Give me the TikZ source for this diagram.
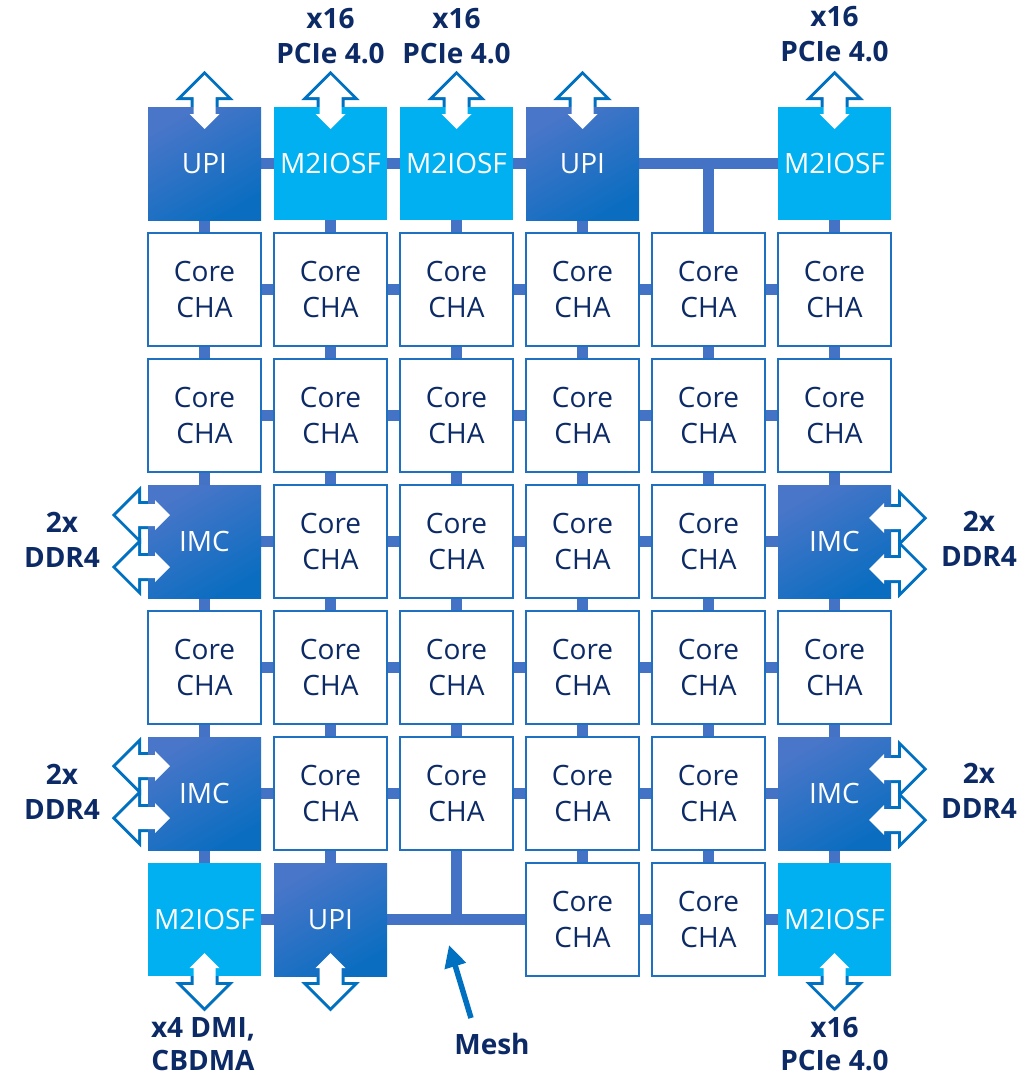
\documentclass[tikz,border=0pt]{standalone}
\usepackage{fontspec}
\setmainfont{Open Sans}
\usetikzlibrary{arrows.meta}

\definecolor{meshblue}{HTML}{4472C4}
\definecolor{edgeblue}{HTML}{1F70C1}
\definecolor{arrowblue}{HTML}{0070C0}
\definecolor{navy}{HTML}{0C2A66}
\definecolor{cyanbox}{HTML}{00B0F0}
\definecolor{agtop}{HTML}{4A76C9}
\definecolor{agmid}{HTML}{3E5EA8}
\definecolor{agbot}{HTML}{0A6DC0}

\pgfdeclarelayer{meshlayer}
\pgfdeclarelayer{arrowlayer}
\pgfdeclarelayer{toplayer}
\pgfsetlayers{meshlayer,arrowlayer,main,toplayer}

\tikzset{
  tile/.style={minimum size=113pt, inner sep=0pt, outer sep=0pt,
    font=\fontsize{28}{36}\selectfont, align=center},
  core/.style={tile, draw=edgeblue, line width=2pt, fill=white, text=navy},
  agent/.style={tile, top color=agtop, middle color=agmid, bottom color=agbot,
    shading angle=30, text=white},
  iosf/.style={tile, fill=cyanbox, text=white},
  link/.style={meshblue, line width=10.5pt},
  lbl/.style={font=\fontsize{28}{35}\selectfont\bfseries, text=navy, align=center,
    inner sep=0pt, anchor=base},
  pointer/.style={arrowblue, line width=5.5pt, -{Triangle[length=22pt,width=21pt]}},
  % double-headed I/O arrow: outlined part outside the tile, plain white inside it
  dblarrow/.pic={
    \begin{pgfonlayer}{arrowlayer}
      \draw[arrowblue, line width=6pt, fill=white, line join=miter]
        (0,4) -- (22,26) -- (11,26) -- (11,43) -- (15,43) -- (0,58)
        -- (-15,43) -- (-11,43) -- (-11,26) -- (-22,26) -- cycle;
    \end{pgfonlayer}
    \begin{pgfonlayer}{toplayer}
      \fill[white]
        (0,4) -- (22,26) -- (11,26) -- (11,43) -- (15,43) -- (0,58)
        -- (-15,43) -- (-11,43) -- (-11,26) -- (-22,26) -- cycle;
    \end{pgfonlayer}
  }
}

\begin{document}
\begin{tikzpicture}[x=1pt, y=-1pt]
\useasboundingbox (0,0) rectangle (1031,1076);

% ---- row 0
\node[agent] (n00) at (204.5,163.5) {UPI};
\node[iosf]  (n01) at (330.5,163.5) {M2IOSF};
\node[iosf]  (n02) at (456.5,163.5) {M2IOSF};
\node[agent] (n03) at (582.5,163.5) {UPI};
\coordinate  (n04) at (708.5,163.5);
\node[iosf]  (n05) at (834.5,163.5) {M2IOSF};

% ---- rows 1, 2 and 4: cores only
\foreach \r/\y in {1/289.5, 2/415.5, 4/667.5}{
  \foreach \c/\x in {0/204.5, 1/330.5, 2/456.5, 3/582.5, 4/708.5, 5/834.5}{
    \node[core] (n\r\c) at (\x,\y) {Core\\CHA};
  }
}

% ---- rows 3 and 5: memory controllers at both ends
\foreach \r/\y in {3/541.5, 5/793.5}{
  \node[agent] (n\r0) at (204.5,\y) {IMC};
  \foreach \c/\x in {1/330.5, 2/456.5, 3/582.5, 4/708.5}{
    \node[core] (n\r\c) at (\x,\y) {Core\\CHA};
  }
  \node[agent] (n\r5) at (834.5,\y) {IMC};
}

% ---- row 6
\node[iosf]  (n60) at (204.5,919.5) {M2IOSF};
\node[agent] (n61) at (330.5,919.5) {UPI};
\coordinate  (n62) at (456.5,919.5);
\node[core]  (n63) at (582.5,919.5) {Core\\CHA};
\node[core]  (n64) at (708.5,919.5) {Core\\CHA};
\node[iosf]  (n65) at (834.5,919.5) {M2IOSF};

% ---- mesh interconnect
\begin{pgfonlayer}{meshlayer}
  \foreach \r in {0,...,6}{
    \foreach \c [evaluate=\c as \d using int(\c+1)] in {0,...,4}{
      \draw[link] (n\r\c) -- (n\r\d);
    }
  }
  \foreach \c in {0,...,5}{
    \foreach \r [evaluate=\r as \s using int(\r+1)] in {0,...,5}{
      \draw[link] (n\r\c) -- (n\s\c);
    }
  }
\end{pgfonlayer}

% ---- I/O arrows
\foreach \x in {204.5, 330.5, 456.5, 582.5, 834.5}{
  \pic at (\x,71) {dblarrow};
}
\foreach \x in {204.5, 330.5, 834.5}{
  \pic[rotate=180] at (\x,1011) {dblarrow};
}
\foreach \y in {515, 567, 766, 818}{
  \pic[rotate=90] at (112,\y) {dblarrow};
}
\foreach \y in {518, 569, 769, 820}{
  \pic[rotate=-90] at (927,\y) {dblarrow};
}

% ---- labels (anchored at the baseline of their last line)
\node[lbl] (pcieA) at (330.5,63) {x16\\PCIe 4.0};
\node[lbl] (pcieB) at (456.5,63) {x16\\PCIe 4.0};
\node[lbl] (pcieC) at (834.5,61) {x16\\PCIe 4.0};
\node[lbl] (ddrA) at (62,567) {2x\\DDR4};
\node[lbl] (ddrB) at (62,819) {2x\\DDR4};
\node[lbl] (ddrC) at (979,566) {2x\\DDR4};
\node[lbl] (ddrD) at (979,818) {2x\\DDR4};
\node[lbl, font=\fontsize{28}{33}\selectfont\bfseries] (dmi) at (203,1070) {x4 DMI,\\CBDMA};
\node[lbl, font=\fontsize{28}{33}\selectfont\bfseries] (pcieD) at (834.5,1070) {x16\\PCIe 4.0};
\node[lbl] (meshlbl) at (492,1054) {Mesh};

% ---- mesh pointer
\coordinate (meshtail) at (471,1018);
\coordinate (meshtip) at (449,945);
\draw[pointer] (meshtail) -- (meshtip);
\end{tikzpicture}
\end{document}
